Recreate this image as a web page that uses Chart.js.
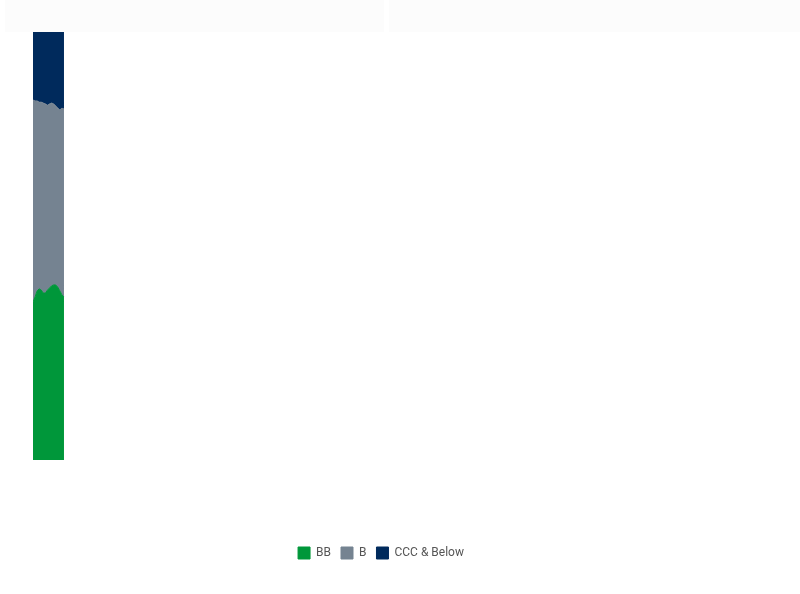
<!DOCTYPE html>
<html>
<head>
<meta charset="utf-8">
<script src="https://cdn.jsdelivr.net/npm/chart.js@4.4.0/dist/chart.umd.min.js"></script>
<style>
  html, body { margin: 0; padding: 0; background: #fff; }
  #wrap { position: relative; width: 800px; height: 594px; }
  .band { position: absolute; top: 0; height: 32px; background: #fcfcfc; }
  #graf { position: absolute; left: 0; top: 0; }
</style>
</head>
<body>
<div id="wrap">
  <div class="band" style="left:5px; width:379px;"></div>
  <div class="band" style="left:389px; width:411px;"></div>
  <canvas id="graf" width="800" height="594"></canvas>
</div>
<script>
// DATOS
const periodos = [0, 1, 2, 3, 4, 5, 6, 7, 8, 9, 10, 11, 12, 13, 14, 15];
const bb = [36.9, 38.1, 39.5, 40.0, 39.7, 39.0, 39.0, 39.7, 40.2, 40.7, 40.9, 40.9, 40.4, 39.5, 38.6, 38.1];
const b = [47.2, 45.8, 44.4, 43.6, 43.9, 44.4, 44.2, 43.2, 43.0, 42.7, 42.3, 41.8, 41.8, 42.3, 43.6, 43.9];
const ccc = [15.9, 16.1, 16.1, 16.4, 16.4, 16.6, 16.8, 17.1, 16.8, 16.6, 16.8, 17.3, 17.8, 18.2, 17.8, 18.0];
const etiquetas = ["BB", "B", "CCC & Below"];
const colores = ["#00973a", "#758391", "#002a5c"];

function serie(valores) {
  return valores.map((v, i) => ({ x: periodos[i], y: v }));
}

// GRAFICO AREA APILADA
function graficoApilado() {
  const data = {
    datasets: [
      { label: etiquetas[0], data: serie(bb), backgroundColor: colores[0], borderColor: colores[0], fill: "origin" },
      { label: etiquetas[1], data: serie(b), backgroundColor: colores[1], borderColor: colores[1], fill: "-1" },
      { label: etiquetas[2], data: serie(ccc), backgroundColor: colores[2], borderColor: colores[2], fill: "-1" },
    ],
  };
  const config = {
    type: "line",
    data: data,
    options: {
      responsive: false,
      animation: false,
      layout: { padding: { left: 33, right: 71, top: 32, bottom: 25 } },
      elements: {
        point: { radius: 0, hoverRadius: 0 },
        line: { borderWidth: 1, tension: 0 },
      },
      scales: {
        x: {
          type: "linear",
          min: 0,
          max: 337,
          grid: { display: false },
          border: { display: false },
          ticks: { display: false },
          afterFit: function (scale) { scale.height = 77; },
        },
        y: {
          display: false,
          stacked: true,
          min: 0,
          max: 100,
        },
      },
      plugins: {
        tooltip: { enabled: false },
        legend: {
          position: "bottom",
          labels: {
            boxWidth: 12,
            boxHeight: 12,
            padding: 10,
            color: "#555",
            font: { family: "Roboto", size: 12 },
          },
        },
      },
    },
  };
  new Chart(document.getElementById("graf"), config);
}

graficoApilado();
</script>
</body>
</html>
